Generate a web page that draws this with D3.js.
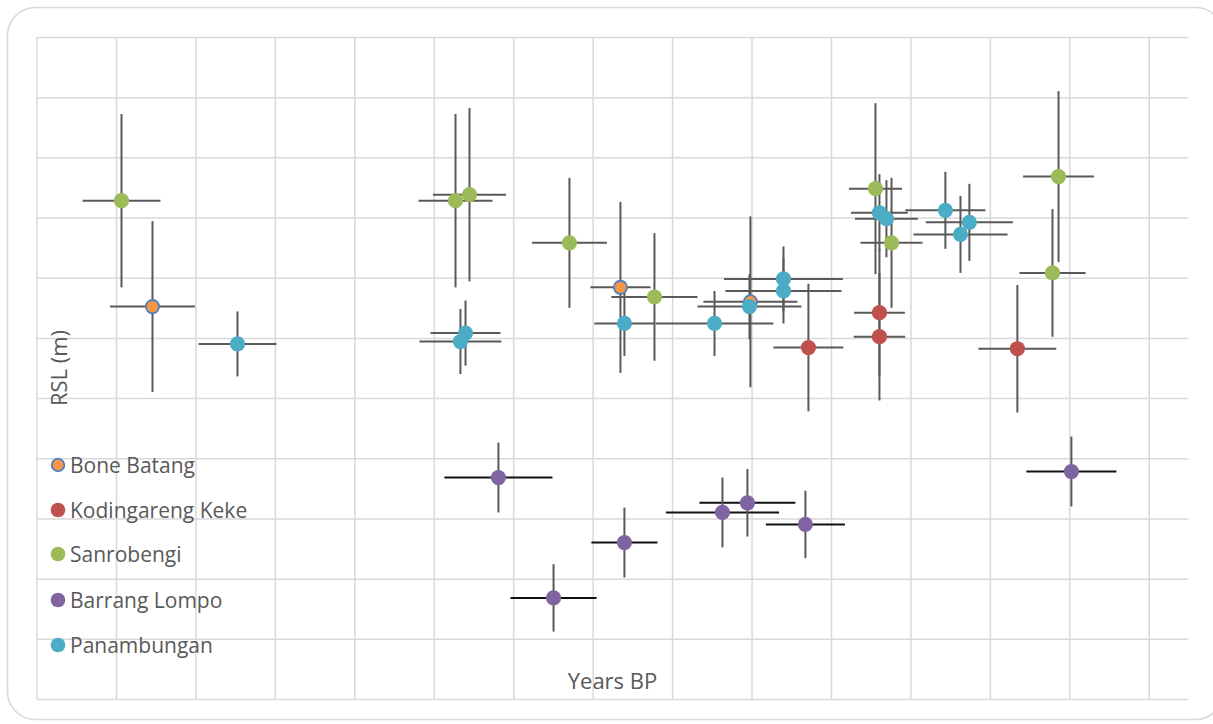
<!DOCTYPE html>
<html>
<head>
<meta charset="utf-8">
<script src="https://cdn.jsdelivr.net/npm/d3@7"></script>
<style>
  html, body { margin: 0; padding: 0; background: #fff; }
  svg { display: block; }
  text { font-family: "Open Sans", "Noto Sans", sans-serif; fill: #595959; }
</style>
</head>
<body>
<svg id="chart" width="1213" height="724"></svg>
<script>
// ---- Data ----
const seriesNames = ["Bone Batang", "Kodingareng Keke", "Sanrobengi", "Barrang Lompo", "Panambungan"];
const seriesColors = ["#F79646", "#C0504D", "#9BBB59", "#8064A2", "#4BACC6"];
const xTickValues = d3.range(0, 7001, 500);
const yTickValues = d3.range(-2.5, 3.01, 0.5);

// each row: [years BP, RSL (m), ± years, ± m]
const boneBatang = [
  [730, 0.76, 267, 0.71],
  [3675, 0.92, 189, 0.71],
  [4493, 0.80, 296, 0.71]
];
const kodingarengKeke = [
  [4858, 0.42, 220, 0.53],
  [5305, 0.71, 160, 0.53],
  [5305, 0.51, 162, 0.53],
  [6173, 0.41, 245, 0.53]
];
const sanrobengi = [
  [535, 1.64, 245, 0.72],
  [2637, 1.64, 233, 0.72],
  [2725, 1.69, 230, 0.72],
  [3354, 1.29, 236, 0.54],
  [3889, 0.84, 271, 0.53],
  [5280, 1.74, 167, 0.71],
  [5381, 1.29, 195, 0.54],
  [6432, 1.84, 223, 0.71],
  [6394, 1.04, 208, 0.53]
];
const barrangLompo = [
  [2907, -0.66, 340, 0.29],
  [3254, -1.66, 271, 0.28],
  [3700, -1.20, 208, 0.29],
  [4317, -0.95, 356, 0.29],
  [4474, -0.87, 302, 0.28],
  [4839, -1.05, 249, 0.28],
  [6513, -0.61, 283, 0.29]
];
const panambungan = [
  [1265, 0.45, 245, 0.27],
  [2668, 0.47, 258, 0.27],
  [2700, 0.54, 220, 0.27],
  [3700, 0.62, 189, 0.27],
  [4267, 0.62, 371, 0.27],
  [4487, 0.76, 327, 0.27],
  [4701, 0.99, 374, 0.27],
  [4701, 0.89, 365, 0.27],
  [5305, 1.54, 179, 0.32],
  [5349, 1.49, 198, 0.32],
  [5720, 1.56, 252, 0.32],
  [5871, 1.46, 274, 0.32],
  [5815, 1.36, 296, 0.32]
];
const allSeries = [boneBatang, kodingarengKeke, sanrobengi, barrangLompo, panambungan];

// ---- Layout ----
const svg = d3.select("#chart");
const plot = { left: 36.5, right: 1188.5, top: 37, bottom: 699 };

const x = d3.scaleLinear().domain([0, 7250]).range([plot.left, plot.right]);
const y = d3.scaleLinear().domain([-2.5, 3]).range([plot.bottom, plot.top]);

// card border
svg.append("rect")
  .attr("x", 7.5).attr("y", 7.5)
  .attr("width", 1216).attr("height", 712)
  .attr("rx", 28).attr("ry", 28)
  .attr("fill", "#fff")
  .attr("stroke", "#d9d9d9").attr("stroke-width", 1.6);

// gridlines via axes
const gx = svg.append("g")
  .attr("transform", `translate(0,${plot.bottom})`)
  .call(d3.axisBottom(x).tickValues(xTickValues).tickSize(-(plot.bottom - plot.top)).tickFormat(""));
gx.select(".domain").remove();
gx.selectAll(".tick line").attr("stroke", "#d9d9d9").attr("stroke-width", 1.5);

const gy = svg.append("g")
  .attr("transform", `translate(${plot.left},0)`)
  .call(d3.axisLeft(y).tickValues(yTickValues).tickSize(-(plot.right - plot.left)).tickFormat(""));
gy.select(".domain").remove();
gy.selectAll(".tick line").attr("stroke", "#d9d9d9").attr("stroke-width", 1.5);

// axis titles
svg.append("text")
  .attr("x", (plot.left + plot.right) / 2).attr("y", 689)
  .attr("text-anchor", "middle")
  .style("font-size", "22px")
  .text("Years BP");
svg.append("text")
  .attr("transform", `translate(67,${(plot.top + plot.bottom) / 2}) rotate(-90)`)
  .attr("text-anchor", "middle")
  .style("font-size", "22px")
  .text("RSL (m)");

// error bars
const eb = svg.append("g");
allSeries.forEach((data, si) => {
  const hColor = si === 3 ? "#111" : "#595959";
  eb.selectAll(null).data(data).enter().append("line")
    .attr("x1", d => x(d[0] - d[2])).attr("x2", d => x(d[0] + d[2]))
    .attr("y1", d => y(d[1])).attr("y2", d => y(d[1]))
    .attr("stroke", hColor).attr("stroke-width", 2);
  eb.selectAll(null).data(data).enter().append("line")
    .attr("x1", d => x(d[0])).attr("x2", d => x(d[0]))
    .attr("y1", d => y(d[1] - d[3])).attr("y2", d => y(d[1] + d[3]))
    .attr("stroke", "#595959").attr("stroke-width", 2);
});

// markers
allSeries.forEach((data, si) => {
  svg.append("g").selectAll("circle").data(data).enter().append("circle")
    .attr("cx", d => x(d[0])).attr("cy", d => y(d[1]))
    .attr("r", si === 0 ? 6.6 : 7.6)
    .attr("fill", seriesColors[si])
    .attr("stroke", si === 0 ? "#4F81BD" : "none")
    .attr("stroke-width", si === 0 ? 1.8 : 0);
});

// legend
const legend = svg.append("g");
const legendY = [465, 510, 554, 600, 645];
seriesNames.forEach((name, i) => {
  legend.append("circle")
    .attr("cx", 58).attr("cy", legendY[i])
    .attr("r", i === 0 ? 6.3 : 7.3)
    .attr("fill", seriesColors[i])
    .attr("stroke", i === 0 ? "#4F81BD" : "none")
    .attr("stroke-width", i === 0 ? 1.8 : 0);
  legend.append("text")
    .attr("x", 70).attr("y", legendY[i] + 7.5)
    .style("font-size", "21px")
    .text(name);
});
</script>
</body>
</html>
